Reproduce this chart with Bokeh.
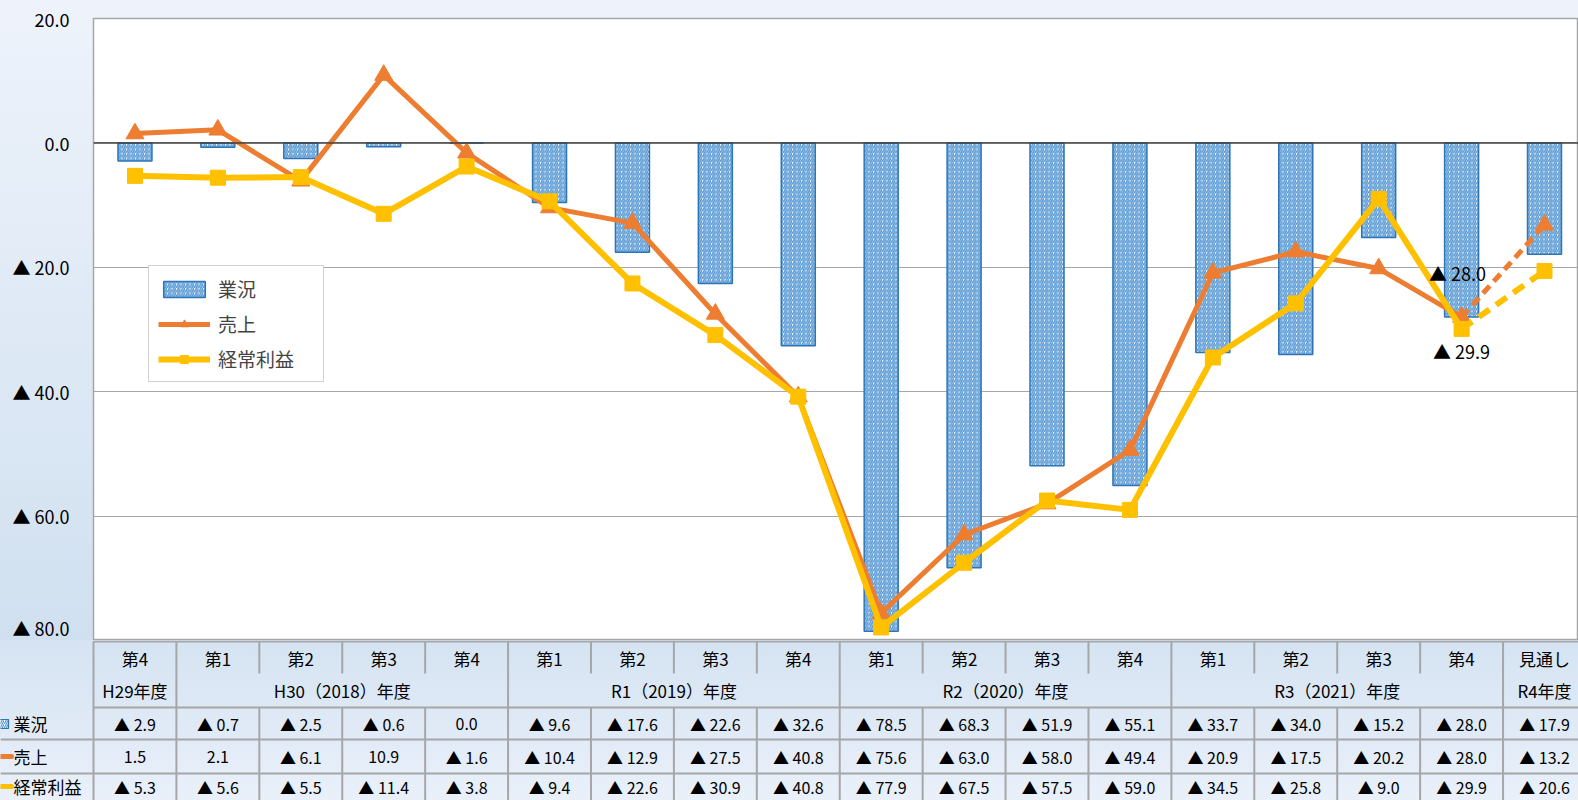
import numpy as np
from bokeh.plotting import figure
from bokeh.models import Range1d, FixedTicker, Legend, LegendItem, Span
from bokeh.core.properties import value
from bokeh.embed import file_html
from bokeh.resources import INLINE

# ---------------- data ----------------
quarters = ["第4", "第1", "第2", "第3", "第4", "第1", "第2", "第3", "第4",
            "第1", "第2", "第3", "第4", "第1", "第2", "第3", "第4", "見通し"]
year_labels = ["H29年度", "H30（2018）年度", "R1（2019）年度", "R2（2020）年度",
               "R3（2021）年度", "R4年度"]
year_spans = [1, 4, 4, 4, 4, 1]
series_names = ["業況", "売上", "経常利益"]
gyokyo = [-2.9, -0.7, -2.5, -0.6, 0.0, -9.6, -17.6, -22.6, -32.6,
          -78.5, -68.3, -51.9, -55.1, -33.7, -34.0, -15.2, -28.0, -17.9]
uriage = [1.5, 2.1, -6.1, 10.9, -1.6, -10.4, -12.9, -27.5, -40.8,
          -75.6, -63.0, -58.0, -49.4, -20.9, -17.5, -20.2, -28.0, -13.2]
keijo = [-5.3, -5.6, -5.5, -11.4, -3.8, -9.4, -22.6, -30.9, -40.8,
         -77.9, -67.5, -57.5, -59.0, -34.5, -25.8, -9.0, -29.9, -20.6]
y_ticks = [20, 0, -20, -40, -60, -80]


def fmt(v):
    return f"▲ {abs(v):.1f}" if v < 0 else f"{v:.1f}"


# ---------------- layout constants ----------------
W = 1578
LEFT = 93
X0, X1 = -0.5, 17.41
FRAME_W = W - LEFT
SCALE = FRAME_W / (X1 - X0)
TX0 = X0 - LEFT / SCALE

BLUE_LINE = "#2e75b6"
BLUE_HATCH = "#5b9bd5"
ORANGE = "#ed7d31"
YELLOW = "#ffc000"
GRID = "#a6a6a6"
JP = "Noto Sans CJK JP"

xs = list(range(len(quarters)))
n = len(xs)

# ---------------- chart ----------------
p = figure(width=W, height=640, x_range=Range1d(X0, X1), y_range=Range1d(-80, 20),
           output_backend="svg", toolbar_location=None, x_axis_location=None,
           min_border_left=LEFT, min_border_right=0, min_border_top=18, min_border_bottom=0)
p.title.visible = False
p.background_fill_color = "white"
p.border_fill_alpha = 0
p.styles = {"background": "linear-gradient(to bottom, #eef3fb 0%, #d0e0f0 100%)"}
p.outline_line_color = GRID
p.outline_line_width = 1.5

p.xgrid.visible = False
p.ygrid.ticker = FixedTicker(ticks=y_ticks)
p.ygrid.grid_line_color = GRID
p.ygrid.grid_line_width = 1.2

p.yaxis.ticker = FixedTicker(ticks=y_ticks)
p.yaxis.major_label_overrides = {t: fmt(t) for t in y_ticks}
p.yaxis.axis_line_color = None
p.yaxis.major_tick_line_color = None
p.yaxis.minor_tick_line_color = None
p.yaxis.major_label_text_font = JP
p.yaxis.major_label_text_font_size = "18px"
p.yaxis.major_label_text_color = "black"
p.yaxis.major_label_standoff = 18

bars = p.vbar(x=xs, top=gyokyo, bottom=0, width=0.41, fill_color="white",
              line_color=BLUE_LINE, line_width=1.5, hatch_pattern="/",
              hatch_color=BLUE_HATCH, hatch_scale=4.5, hatch_weight=1.7)

p.add_layout(Span(location=0, dimension="width", line_color="#404040", line_width=1.5))

s_solid = p.line(xs[:n - 1], uriage[:n - 1], line_color=ORANGE, line_width=5)
s_dash = p.line(xs[n - 2:], uriage[n - 2:], line_color=ORANGE, line_width=5, line_dash="10 6")
s_pts = p.scatter(xs, uriage, marker="triangle", size=18, color=ORANGE)

k_solid = p.line(xs[:n - 1], keijo[:n - 1], line_color=YELLOW, line_width=6)
k_dash = p.line(xs[n - 2:], keijo[n - 2:], line_color=YELLOW, line_width=6, line_dash="13 8")
k_pts = p.scatter(xs, keijo, marker="square", size=15, color=YELLOW)

# data labels for latest actual quarter
p.text(x=[xs[n - 2], xs[n - 2]], y=[uriage[n - 2], keijo[n - 2]],
       text=[fmt(uriage[n - 2]), fmt(keijo[n - 2])],
       x_offset=[-4, 0], y_offset=[-44, 22],
       text_align="center", text_baseline="middle",
       text_font=value(JP), text_font_size="18px", text_color="black")

legend = Legend(items=[LegendItem(label=series_names[0], renderers=[bars]),
                       LegendItem(label=series_names[1], renderers=[s_solid, s_pts]),
                       LegendItem(label=series_names[2], renderers=[k_solid, k_pts])],
                location=(55, 258))
legend.label_text_font = JP
legend.label_text_font_size = "19px"
legend.glyph_width = 52
legend.glyph_height = 20
legend.label_height = 20
legend.label_width = 96
legend.label_standoff = 8
legend.spacing = 8
legend.padding = 9
legend.margin = 0
legend.border_line_color = GRID
legend.border_line_width = 1.5
legend.background_fill_color = "white"
legend.background_fill_alpha = 1
p.add_layout(legend)

# ---------------- table ----------------
t = figure(width=W, height=160, x_range=Range1d(TX0, X1), y_range=Range1d(160, 0),
           output_backend="svg", toolbar_location=None, x_axis_location=None,
           y_axis_location=None, min_border=0, min_border_left=0, min_border_right=0,
           min_border_top=0, min_border_bottom=0)
t.title.visible = False
t.grid.visible = False
t.outline_line_color = None
t.background_fill_alpha = 0
t.border_fill_alpha = 0
t.styles = {"background": "linear-gradient(to bottom, #d5e3f2 0%, #e9f0fa 100%)"}

bounds = [X0 + b for b in np.cumsum([0] + year_spans)]
inner = [X0 + i for i in range(1, n) if (X0 + i) not in bounds]

# horizontal rules
t.segment(x0=[X0, X0, TX0, TX0], x1=[X1] * 4, y0=[1, 67, 99, 133], y1=[1, 67, 99, 133],
          line_color=GRID, line_width=2)
# vertical rules
t.segment(x0=bounds, x1=bounds, y0=[1] * len(bounds), y1=[160] * len(bounds),
          line_color=GRID, line_width=2)
t.segment(x0=inner, x1=inner, y0=[1] * len(inner), y1=[33] * len(inner),
          line_color=GRID, line_width=2)
t.segment(x0=inner, x1=inner, y0=[67] * len(inner), y1=[160] * len(inner),
          line_color=GRID, line_width=2)

# header texts
t.text(x=xs, y=[18] * n, text=quarters, text_align="center", text_baseline="middle",
       text_font=value(JP), text_font_size="17px", text_color="black")
starts = np.cumsum([0] + year_spans[:-1])
centers = [s + (sp - 1) / 2 for s, sp in zip(starts, year_spans)]
t.text(x=centers, y=[50] * len(centers), text=year_labels, text_align="center",
       text_baseline="middle", text_font=value(JP), text_font_size="17px", text_color="black")

# data rows
row_ys = [83, 116, 146]
for row_y, vals in zip(row_ys, [gyokyo, uriage, keijo]):
    t.text(x=xs, y=[row_y] * n, text=[fmt(v) for v in vals], text_align="center",
           text_baseline="middle", text_font=value(JP), text_font_size="16px",
           text_color="black")

# row labels with small series markers
t.text(x=[TX0] * 3, y=row_ys, text=series_names, x_offset=13, text_align="left",
       text_baseline="middle", text_font=value(JP), text_font_size="17px", text_color="black")
t.quad(left=[TX0 - 1 / SCALE], right=[TX0 + 8 / SCALE], top=[79], bottom=[88],
       fill_color="white", line_color=BLUE_LINE, line_width=1.2, hatch_pattern="/",
       hatch_color=BLUE_HATCH, hatch_scale=4, hatch_weight=1.2)
t.segment(x0=[TX0, TX0], x1=[TX0 + 11 / SCALE, TX0 + 11 / SCALE], y0=row_ys[1:], y1=row_ys[1:],
          line_color=[ORANGE, YELLOW], line_width=5, line_cap="round")

html = file_html([p, t], INLINE)
open("out.html", "w").write(html)
